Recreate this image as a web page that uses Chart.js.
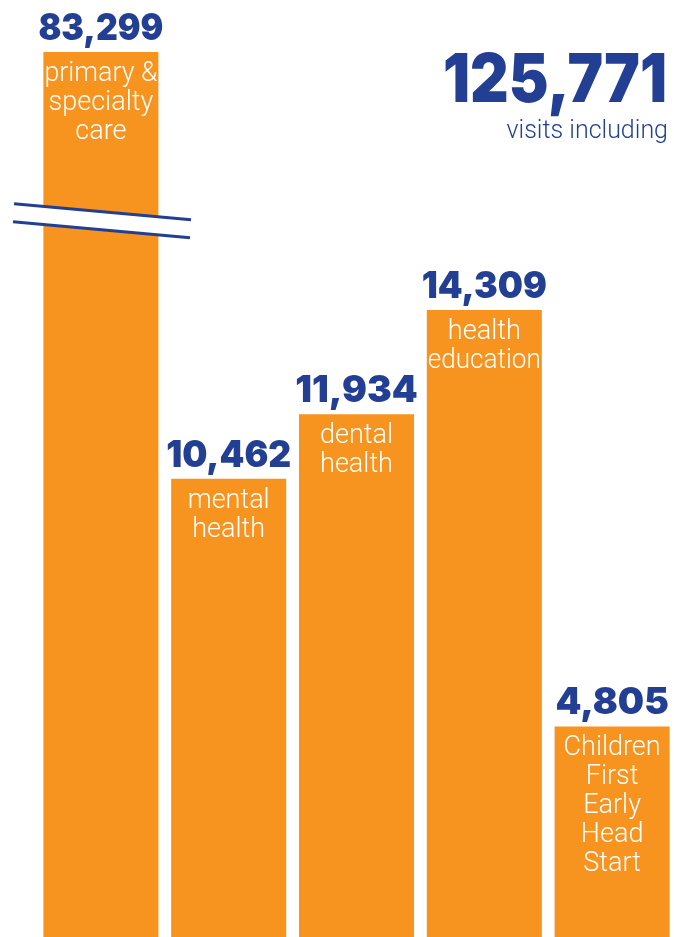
<!DOCTYPE html>
<html>
<head>
<meta charset="utf-8">
<title>Visits</title>
<script src="https://cdn.jsdelivr.net/npm/chart.js@4"></script>
<style>
  html, body { margin: 0; padding: 0; background: #fff; overflow: hidden; }
  #wrap { position: relative; width: 680px; height: 937px; }
</style>
</head>
<body>
<div id="wrap"><canvas id="visitsChart" width="680" height="937"></canvas></div>
<script>
// Chart data
const categories = [
    ['primary &', 'specialty', 'care'],
    ['mental', 'health'],
    ['dental', 'health'],
    ['health', 'education'],
    ['Children', 'First', 'Early', 'Head', 'Start']
];
const visits = [83299, 10462, 11934, 14309, 4805];
const totalVisits = 125771;
const totalCaption = 'visits including';

const ORANGE = '#F7941F';
const BLUE = '#233F94';
const HEAVY = '"Inter", "Roboto", sans-serif';
const LIGHT = '"Roboto", sans-serif';

// Draws value above each bar, category text inside, the axis break and the total
const labelPlugin = {
    id: 'labels',
    afterDatasetsDraw(chart) {
        const ctx = chart.ctx;
        const area = chart.chartArea;
        const bars = chart.getDatasetMeta(0).data;

        ctx.save();
        bars.forEach((bar, i) => {
            const top = Math.max(bar.y, area.top);
            const w = bar.width;

            // value
            ctx.fillStyle = BLUE;
            ctx.textAlign = 'center';
            ctx.textBaseline = 'alphabetic';
            ctx.font = '900 37px ' + HEAVY;
            ctx.fillText(visits[i].toLocaleString('en-US'), bar.x, top - 12, w + 10);

            // category
            ctx.fillStyle = '#fff';
            ctx.font = '300 27px ' + LIGHT;
            categories[i].forEach((line, j) => {
                ctx.fillText(line, bar.x, top + 29 + j * 29, w - 2);
            });
        });

        // axis break on the tall bar
        const y = chart.scales.y;
        const brk = y.getPixelForValue(16600);
        ctx.fillStyle = '#fff';
        ctx.beginPath();
        ctx.moveTo(14, brk - 6);
        ctx.lineTo(191, brk + 10);
        ctx.lineTo(190, brk + 28);
        ctx.lineTo(13, brk + 12);
        ctx.closePath();
        ctx.fill();

        ctx.strokeStyle = BLUE;
        ctx.lineWidth = 3;
        ctx.beginPath();
        ctx.moveTo(14, brk - 6);
        ctx.lineTo(191, brk + 10);
        ctx.moveTo(13, brk + 12);
        ctx.lineTo(190, brk + 28);
        ctx.stroke();

        // total
        ctx.fillStyle = BLUE;
        ctx.textAlign = 'right';
        ctx.font = '900 68px ' + HEAVY;
        ctx.fillText(totalVisits.toLocaleString('en-US'), 667, 102, 224);
        ctx.font = '300 25px ' + LIGHT;
        ctx.fillText(totalCaption, 668, 138, 164);
        ctx.restore();
    }
};

const chart = new Chart(document.getElementById('visitsChart').getContext('2d'), {
    type: 'bar',
    data: {
        labels: categories.map(c => c.join(' ')),
        datasets: [{
            data: visits,
            backgroundColor: ORANGE,
            borderWidth: 0,
            barPercentage: 0.9,
            categoryPercentage: 1
        }]
    },
    options: {
        responsive: false,
        animation: false,
        layout: { padding: { left: 37, right: 4, top: 52, bottom: 0 } },
        scales: {
            x: { display: false },
            y: { display: false, min: 0, max: 20200 }
        },
        plugins: {
            legend: { display: false },
            tooltip: { enabled: false }
        }
    },
    plugins: [labelPlugin]
});
</script>
</body>
</html>
